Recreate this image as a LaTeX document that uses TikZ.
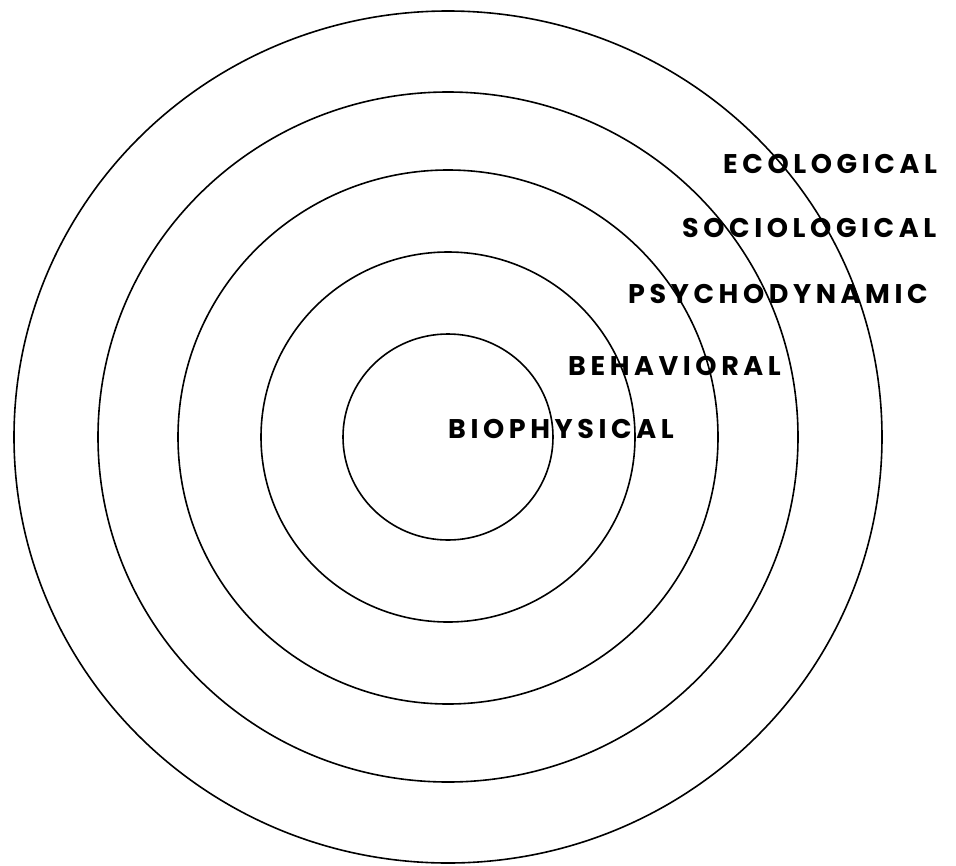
\documentclass[tikz,border=0pt]{standalone}
\usepackage{fontspec}
\newfontfamily\ringfont[LetterSpace=17]{Poppins}
\tikzset{
  ring/.style={draw=black,line width=1.6pt},
  lvl/.style={font=\ringfont\bfseries\fontsize{27}{32}\selectfont,anchor=base west,inner sep=0pt}}

\begin{document}
\begin{tikzpicture}[x=1pt,y=-1pt]
\useasboundingbox (0,0) rectangle (956,865);
\coordinate (ctr) at (448,437);
% rings, inside out
\foreach \rx/\ry in {105/103, 187/185, 270/267, 350/345, 434/426}{
  \draw[ring] (ctr) ellipse[x radius=\rx, y radius=\ry];
}
\node[lvl] (eco) at (723,173) {ECOLOGICAL};
\node[lvl] (soc) at (682,237) {SOCIOLOGICAL};
\node[lvl] (psy) at (628,303) {PSYCHODYNAMIC};
\node[lvl] (beh) at (568,375) {BEHAVIORAL};
\node[lvl] (bio) at (448,438) {BIOPHYSICAL};
\end{tikzpicture}
\end{document}
